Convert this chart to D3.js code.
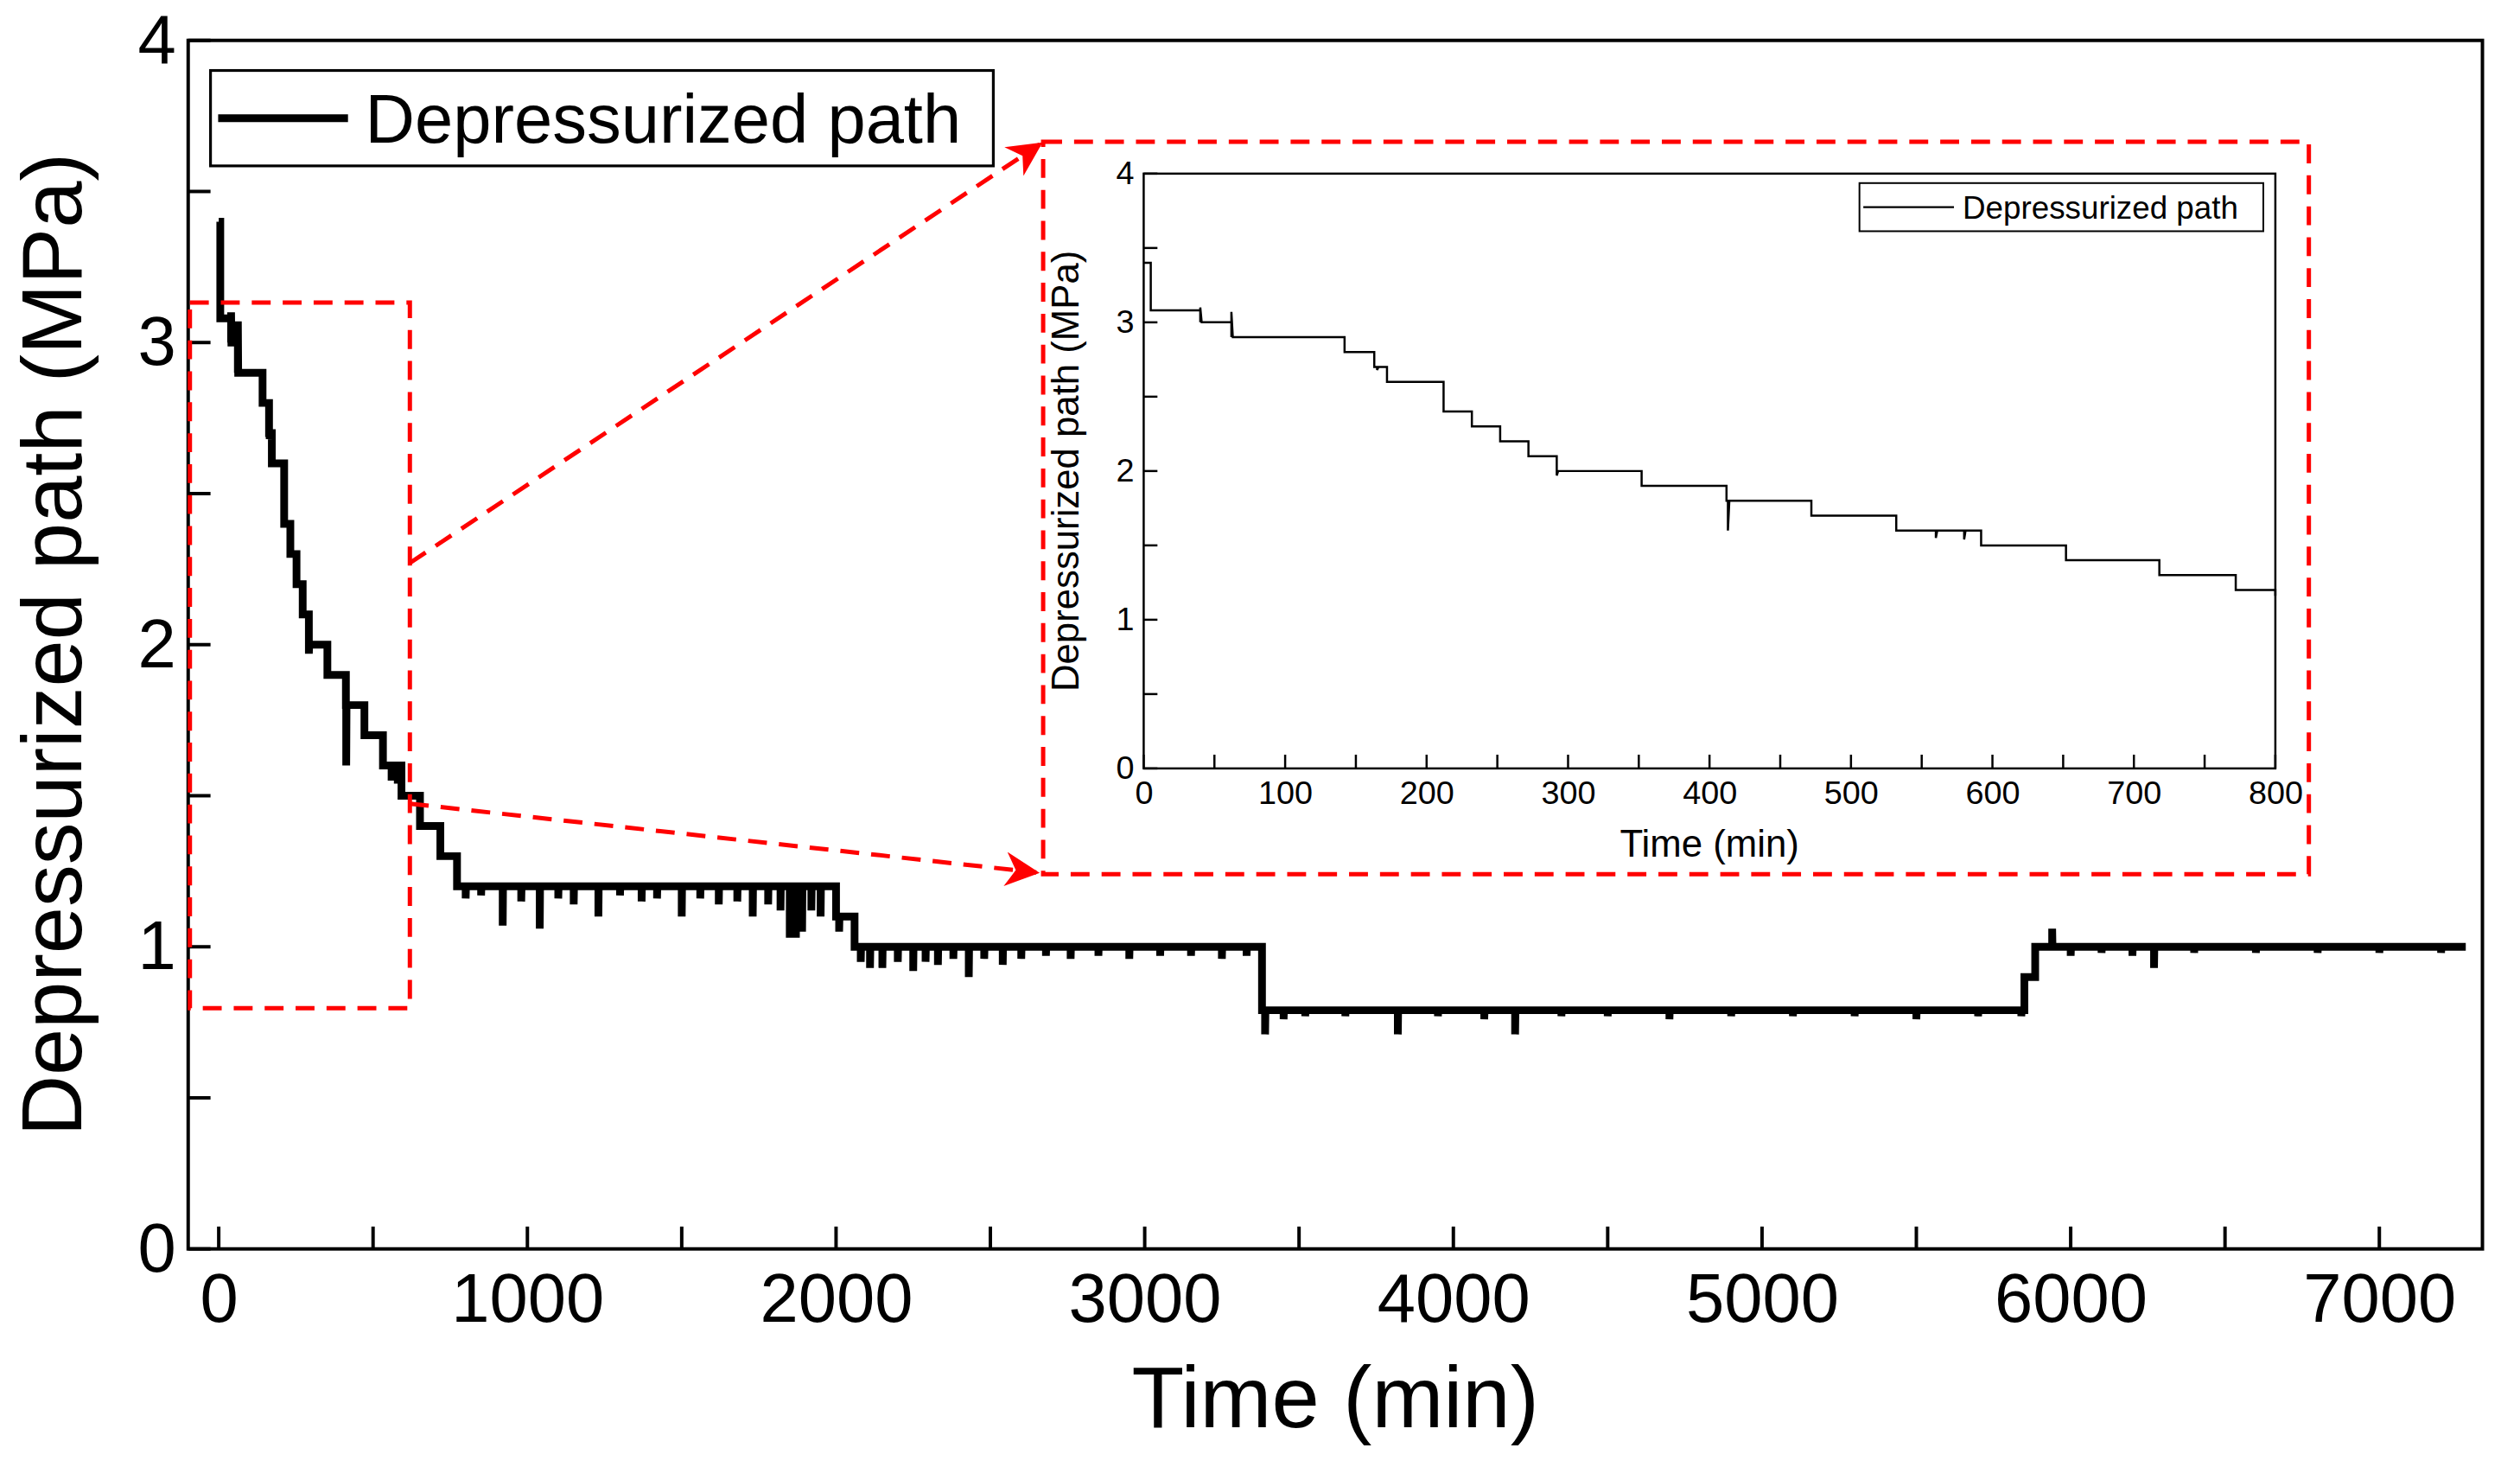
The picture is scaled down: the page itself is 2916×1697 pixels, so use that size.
<!DOCTYPE html>
<html><head><meta charset="utf-8">
<script src="https://cdn.jsdelivr.net/npm/d3@7"></script>
<style>body{margin:0;background:#fff}</style>
</head><body>
<div id="chart"></div>
<script>
// step levels: [start time, level]
const stepStarts = [0, 5, 40, 62, 142, 163, 172, 212, 232, 252, 272, 292, 352, 412, 472, 532, 592, 652, 718, 772, 2000, 2060, 3380, 5850, 5885];
const stepLevels = [3.4, 3.08, 3.0, 2.9, 2.8, 2.7, 2.6, 2.4, 2.3, 2.2, 2.1, 2.0, 1.9, 1.8, 1.7, 1.6, 1.5, 1.4, 1.3, 1.2, 1.1, 1.0, 0.79, 0.9, 1.0];
const endTime = 7280;
// short spikes off the current level: time, value
const spikeTimes = [40, 62, 165, 292, 413, 560, 580, 800, 850, 920, 980, 1040, 1100, 1150, 1230, 1300, 1370, 1420, 1500, 1560, 1620, 1680, 1730, 1780, 1820, 1850, 1870, 1890, 1920, 1950, 2010,
    2080, 2110, 2150, 2200, 2250, 2290, 2330, 2380, 2430, 2480, 2540, 2600, 2680, 2760, 2850, 2950, 3050, 3150, 3250, 3330,
    3390, 3450, 3520, 3650, 3820, 3950, 4100, 4200, 4350, 4500, 4700, 4900, 5100, 5300, 5500, 5700, 5840,
    5940, 6000, 6100, 6200, 6270, 6400, 6600, 6800, 7000, 7200];
const spikeValues = [3.1, 3.07, 2.68, 1.97, 1.6, 1.55, 1.54, 1.16, 1.17, 1.07, 1.15, 1.06, 1.16, 1.14, 1.1, 1.17, 1.15, 1.16, 1.1, 1.16, 1.14, 1.15, 1.1, 1.14, 1.12, 1.03, 1.03, 1.05, 1.12, 1.1, 1.05,
    0.95, 0.93, 0.93, 0.95, 0.92, 0.95, 0.94, 0.96, 0.9, 0.96, 0.94, 0.96, 0.97, 0.96, 0.97, 0.96, 0.97, 0.97, 0.96, 0.97,
    0.71, 0.76, 0.77, 0.77, 0.71, 0.77, 0.76, 0.71, 0.77, 0.77, 0.76, 0.77, 0.77, 0.77, 0.76, 0.77, 0.77,
    1.06, 0.97, 0.98, 0.97, 0.93, 0.98, 0.98, 0.98, 0.98, 0.98];
const mainXTicks = [0, 1000, 2000, 3000, 4000, 5000, 6000, 7000];
const insetXTicks = [0, 100, 200, 300, 400, 500, 600, 700, 800];
const yTicks = [0, 1, 2, 3, 4];
const seriesName = "Depressurized path";

function levelAt(t) {
    let v = stepLevels[0];
    for (let i = 0; i < stepStarts.length; i++) if (stepStarts[i] <= t) v = stepLevels[i];
    return v;
}
// build the step path, with spikes inserted
let events = [];
for (let i = 0; i < stepStarts.length; i++) events.push({ t: stepStarts[i], type: "step", v: stepLevels[i] });
for (let i = 0; i < spikeTimes.length; i++) events.push({ t: spikeTimes[i], type: "spike", v: spikeValues[i] });
events.sort((a, b) => a.t - b.t);
let path = [];
let cur = stepLevels[0];
events.forEach(e => {
    if (e.type === "step") {
        if (path.length) path.push([e.t, cur]);
        cur = e.v;
        path.push([e.t, cur]);
    } else {
        let lv = levelAt(e.t);
        path.push([e.t, lv], [e.t, e.v], [e.t + 1, lv]);
    }
});
path.push([endTime, cur]);

const W = 2916, H = 1697;
const root = d3.select("#chart").append("svg").attr("width", W).attr("height", H);
const svg = root.append("g").attr("transform", "scale(0.9943)");
const font = "'Liberation Sans', Arial, sans-serif";
const narrow = "'Liberation Sans Narrow', 'Liberation Sans', Arial, sans-serif";

function panel(o) {
    const x = d3.scaleLinear().domain(o.xd).range([o.l, o.r]);
    const y = d3.scaleLinear().domain([0, 4]).range([o.b, o.t]);
    const g = svg.append("g");
    const xMinor = d3.range(0, o.xd[1] + 1, o.minor).filter(v => v >= o.xd[0] && v <= o.xd[1]);
    g.selectAll(".xm").data(xMinor).enter().append("line")
        .attr("x1", d => x(d)).attr("x2", d => x(d)).attr("y1", o.b).attr("y2", o.b - o.tick)
        .attr("stroke", "#000").attr("stroke-width", o.sw);
    g.selectAll(".ym").data(d3.range(0, 4.01, 0.5)).enter().append("line")
        .attr("x1", o.l).attr("x2", o.l + o.tick).attr("y1", d => y(d)).attr("y2", d => y(d))
        .attr("stroke", "#000").attr("stroke-width", o.sw);
    const xa = g.append("g").attr("transform", `translate(0,${o.b})`)
        .call(d3.axisBottom(x).tickValues(o.xt).tickSize(0).tickPadding(o.pad).tickFormat(d3.format("d")));
    const ya = g.append("g").attr("transform", `translate(${o.l},0)`)
        .call(d3.axisLeft(y).tickValues(yTicks).tickSize(0).tickPadding(o.ypad).tickFormat(d3.format("d")));
    [xa, ya].forEach(a => {
        a.select(".domain").remove();
        a.selectAll("text").attr("font-family", o.ff).attr("font-size", o.fs).attr("fill", "#000");
    });
    g.append("rect").attr("x", o.l).attr("y", o.t).attr("width", o.r - o.l).attr("height", o.b - o.t)
        .attr("fill", "none").attr("stroke", "#000").attr("stroke-width", o.sw);
    const line = d3.line().x(d => x(d[0])).y(d => y(d[1]));
    const data = path.filter(d => d[0] <= o.xd[1]);
    if (o.xd[1] < endTime) data.push([o.xd[1], levelAt(o.xd[1])]);
    g.append("path").datum(data).attr("d", line).attr("fill", "none")
        .attr("stroke", "#000").attr("stroke-width", o.lw);
    g.append("text").attr("x", (o.l + o.r) / 2).attr("y", o.xtY).attr("text-anchor", "middle")
        .attr("font-family", o.ff).attr("font-size", o.tfs).text("Time (min)");
    g.append("text").attr("transform", `translate(${o.ytX},${(o.t + o.b) / 2}) rotate(-90)`)
        .attr("text-anchor", "middle").attr("font-family", font).attr("font-size", o.yfs || o.tfs).text("Depressurized path (MPa)");
    const L = o.leg;
    g.append("rect").attr("x", L.x).attr("y", L.y).attr("width", L.w).attr("height", L.h)
        .attr("fill", "#fff").attr("stroke", "#000").attr("stroke-width", o.sw * 0.8);
    g.append("line").attr("x1", L.x + L.h * 0.08).attr("x2", L.x + L.lineLen).attr("y1", L.y + L.h / 2).attr("y2", L.y + L.h / 2)
        .attr("stroke", "#000").attr("stroke-width", o.lw);
    g.append("text").attr("x", L.x + L.lineLen + L.h * 0.18).attr("y", L.y + L.h / 2).attr("dy", "0.35em")
        .attr("font-family", o.ff).attr("font-size", L.fs).text(seriesName);
    return { x, y };
}

panel({ l: 219, r: 2889, t: 47, b: 1453, xd: [-99, 7334], xt: mainXTicks, minor: 500, tick: 26,
    sw: 4, lw: 9, pad: 28, ypad: 14, fs: 80, ff: font, tfs: 100, yfs: 98, xtY: 1660, ytX: 95,
    leg: { x: 245, y: 82, w: 911, h: 111, lineLen: 160, fs: 80 } });

svg.append("rect").attr("x", 1250).attr("y", 180).attr("width", 1460).attr("height", 840).attr("fill", "#fff");

panel({ l: 1331, r: 2648, t: 202, b: 894, xd: [0, 800], xt: insetXTicks, minor: 50, tick: 16,
    sw: 2.5, lw: 2.5, pad: 14, ypad: 11, fs: 38, ff: narrow, tfs: 44, xtY: 997, ytX: 1255,
    leg: { x: 2164, y: 213, w: 470, h: 56, lineLen: 110, fs: 37 } });

const red = "#ff0000";
svg.append("rect").attr("x", 221).attr("y", 352).attr("width", 256).attr("height", 821)
    .attr("fill", "none").attr("stroke", red).attr("stroke-width", 5).attr("stroke-dasharray", "22,14");
svg.append("rect").attr("x", 1214).attr("y", 165).attr("width", 1473).attr("height", 852)
    .attr("fill", "none").attr("stroke", red).attr("stroke-width", 5).attr("stroke-dasharray", "22,14");
const defs = root.append("defs");
defs.append("marker").attr("id", "ah").attr("viewBox", "0 0 10 10").attr("refX", 9).attr("refY", 5)
    .attr("markerUnits", "userSpaceOnUse").attr("orient", "auto").attr("markerWidth", 50).attr("markerHeight", 40)
    .append("path").attr("d", "M0,0 L10,5 L0,10 L3,5 Z").attr("fill", red);
[[477, 655, 1210, 168], [477, 935, 1206, 1015]].forEach(a => {
    svg.append("line").attr("x1", a[0]).attr("y1", a[1]).attr("x2", a[2]).attr("y2", a[3])
        .attr("stroke", red).attr("stroke-width", 5).attr("stroke-dasharray", "22,14")
        .attr("marker-end", "url(#ah)");
});
</script>
</body></html>
